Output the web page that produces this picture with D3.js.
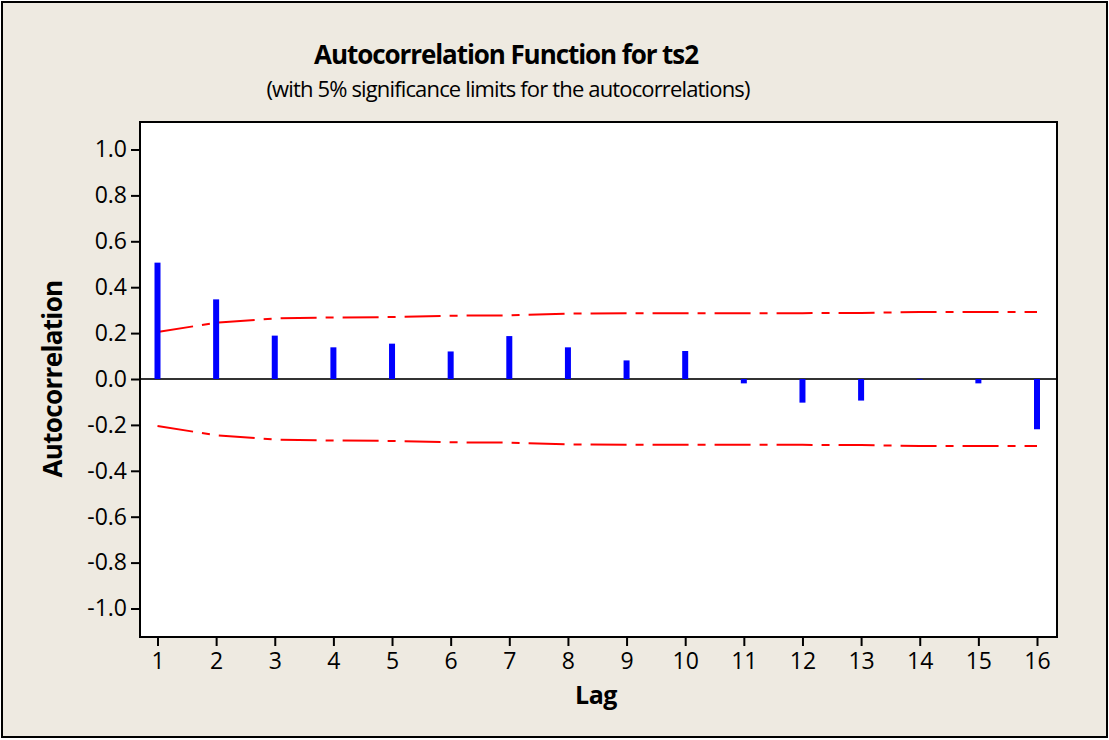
<!DOCTYPE html>
<html>
<head>
<meta charset="utf-8"/>
<title>Autocorrelation Function for ts2</title>
<script src="https://cdn.jsdelivr.net/npm/d3@7"></script>
<style>
  body { margin: 0; background: #fff; }
  text { font-family: "Open Sans", "DejaVu Sans", sans-serif; fill: #000; }
  .axis path { display: none; }
  .axis line { stroke: #000; stroke-width: 2; }
  .axis text { font-size: 23px; font-family: "Open Sans", "DejaVu Sans", sans-serif; }
</style>
</head>
<body>
<div id="chart"></div>
<script>
// values
var lags = [1, 2, 3, 4, 5, 6, 7, 8, 9, 10, 11, 12, 13, 14, 15, 16];
var acf = [0.507, 0.347, 0.189, 0.138, 0.154, 0.120, 0.187, 0.138, 0.081, 0.122, -0.019, -0.103, -0.094, -0.003, -0.019, -0.219];
var limits = [0.205, 0.245, 0.264, 0.268, 0.270, 0.276, 0.277, 0.285, 0.286, 0.287, 0.287, 0.287, 0.288, 0.292, 0.292, 0.292];
var yTicks = [-1.0, -0.8, -0.6, -0.4, -0.2, 0.0, 0.2, 0.4, 0.6, 0.8, 1.0];

var w = 1109, h = 740;
var plot = {left: 140, top: 122, right: 1057, bottom: 637};

var svg = d3.select("#chart").append("svg")
    .attr("width", w)
    .attr("height", h);

// page background + border
svg.append("rect")
    .attr("x", 2).attr("y", 2)
    .attr("width", 1105).attr("height", 735)
    .attr("fill", "#eeeae1")
    .attr("stroke", "#000")
    .attr("stroke-width", 2);

svg.append("rect")
    .attr("x", plot.left).attr("y", plot.top)
    .attr("width", plot.right - plot.left).attr("height", plot.bottom - plot.top)
    .attr("fill", "#fff");

var x = d3.scaleLinear().domain([1, 16]).range([157.5, 1037]);
var y = d3.scaleLinear().domain([-1, 1]).range([608.5, 149.5]);

// plain hyphen for negatives, like the original
var fmt = function(d) { return d3.format(".1f")(d).replace("\u2212", "-"); };

// axes
svg.append("g")
    .attr("class", "axis")
    .attr("transform", "translate(" + plot.left + ",0)")
    .call(d3.axisLeft(y).tickValues(yTicks).tickFormat(fmt).tickSize(9).tickPadding(4));

svg.append("g")
    .attr("class", "axis")
    .attr("transform", "translate(0," + plot.bottom + ")")
    .call(d3.axisBottom(x).tickValues(lags).tickFormat(d3.format("d")).tickSize(9).tickPadding(7));

// zero line
svg.append("line")
    .attr("x1", plot.left).attr("x2", plot.right)
    .attr("y1", y(0)).attr("y2", y(0))
    .attr("stroke", "#333")
    .attr("stroke-width", 2);

// significance limits
var limitLine = d3.line()
    .x(function(d, i) { return x(lags[i]); })
    .y(function(d) { return y(d); });

[1, -1].forEach(function(sign) {
    svg.append("path")
        .datum(limits.map(function(v) { return v * sign; }))
        .attr("d", limitLine)
        .attr("fill", "none")
        .attr("stroke", "#ff0000")
        .attr("stroke-width", 2)
        .attr("stroke-dasharray", "36,9,8,9");
});

// acf bars
svg.selectAll("rect.bar")
    .data(acf)
    .enter().append("rect")
    .attr("class", "bar")
    .attr("x", function(d, i) { return x(lags[i]) - 3; })
    .attr("y", function(d) { return y(Math.max(0, d)); })
    .attr("width", 6)
    .attr("height", function(d) { return Math.abs(y(d) - y(0)); })
    .attr("fill", "#0000ff");

// frame
svg.append("rect")
    .attr("x", plot.left).attr("y", plot.top)
    .attr("width", plot.right - plot.left).attr("height", plot.bottom - plot.top)
    .attr("fill", "none")
    .attr("stroke", "#000")
    .attr("stroke-width", 2);

// tighten letter spacing so a label spans the same width as in the original
function fit(t, width) {
    var n = t.text().length;
    var len = t.node().getComputedTextLength();
    t.style("letter-spacing", ((width - len) / n).toFixed(2) + "px");
}

// titles
var title = svg.append("text")
    .attr("x", 506).attr("y", 64)
    .attr("text-anchor", "middle")
    .style("font-size", "26px").style("font-weight", "bold")
    .text("Autocorrelation Function for ts2");
fit(title, 384);

var sub = svg.append("text")
    .attr("x", 508).attr("y", 97)
    .attr("text-anchor", "middle")
    .style("font-size", "22px")
    .text("(with 5% significance limits for the autocorrelations)");
fit(sub, 483);

var xl = svg.append("text")
    .attr("x", 596).attr("y", 704)
    .attr("text-anchor", "middle")
    .style("font-size", "25px").style("font-weight", "bold")
    .text("Lag");
fit(xl, 42);

var yl = svg.append("text")
    .attr("transform", "translate(62,379) rotate(-90)")
    .attr("text-anchor", "middle")
    .style("font-size", "26px").style("font-weight", "bold")
    .text("Autocorrelation");
fit(yl, 197);
</script>
</body>
</html>
